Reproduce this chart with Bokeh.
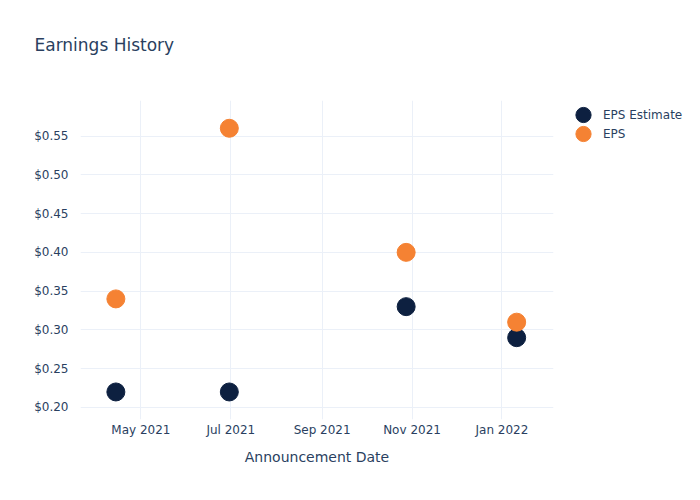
from datetime import datetime
from bokeh.plotting import figure
from bokeh.models import (ColumnDataSource, Legend, LegendItem, FixedTicker,
                          DatetimeTickFormatter, NumeralTickFormatter, Range1d)
from bokeh.embed import file_html
from bokeh.resources import INLINE

dates = ["2021-04-14", "2021-06-30", "2021-10-28", "2022-01-11"]
eps_estimate = [0.22, 0.22, 0.33, 0.29]
eps_actual = [0.34, 0.56, 0.40, 0.31]
x_tick_dates = ["2021-05-01", "2021-07-01", "2021-09-01", "2021-11-01", "2022-01-01"]
y_ticks = [0.20, 0.25, 0.30, 0.35, 0.40, 0.45, 0.50, 0.55]

def ms(s):
    return datetime.strptime(s, "%Y-%m-%d").timestamp() * 1000.0

xd = [datetime.strptime(d, "%Y-%m-%d") for d in dates]
src = ColumnDataSource(dict(x=xd, est=eps_estimate, eps=eps_actual))

TXT = "#2a3f5f"
FONT = "DejaVu Sans"

p = figure(frame_width=473, frame_height=319, x_axis_type="datetime", output_backend="svg",
           toolbar_location=None, min_border_left=80, min_border_right=147,
           min_border_top=100, min_border_bottom=81,
           x_range=Range1d(ms("2021-03-21"), ms("2022-02-05")),
           y_range=Range1d(0.1845, 0.5958))
p.outline_line_color = None
p.background_fill_color = "white"

p.title.text = "Earnings History"
p.title.text_font = FONT
p.title.text_font_size = "17px"
p.title.text_font_style = "normal"
p.title.text_color = TXT
p.title.align = "left"
p.title.offset = -46
p.title.standoff = 0
p.title.padding = dict(left=0, right=0, top=0, bottom=46)

r1 = p.ellipse("x", "est", source=src, width=18, height=18, width_units="screen",
               height_units="screen", fill_color="#0d2040", line_color="#0d2040")
r2 = p.ellipse("x", "eps", source=src, width=18, height=18, width_units="screen",
               height_units="screen", fill_color="#f58233", line_color="#f58233")

p.xaxis.ticker = FixedTicker(ticks=[ms(d) for d in x_tick_dates])
p.xaxis.formatter = DatetimeTickFormatter(months="%b %Y", days="%b %Y")
p.yaxis.ticker = FixedTicker(ticks=y_ticks)
p.yaxis.formatter = NumeralTickFormatter(format="$0.00")

for ax in (p.xaxis[0], p.yaxis[0]):
    ax.axis_line_color = None
    ax.major_tick_line_color = None
    ax.minor_tick_line_color = None
    ax.major_tick_out = 0
    ax.major_tick_in = 0
    ax.minor_tick_out = 0
    ax.major_label_text_font = FONT
    ax.major_label_text_font_size = "12px"
    ax.major_label_text_color = TXT
p.xaxis.major_label_standoff = 3
p.yaxis.major_label_standoff = 12
p.xaxis.axis_label = "Announcement Date"
p.xaxis.axis_label_text_font = FONT
p.xaxis.axis_label_text_font_size = "14px"
p.xaxis.axis_label_text_font_style = "normal"
p.xaxis.axis_label_text_color = TXT
p.xaxis.axis_label_standoff = 9

p.xgrid.grid_line_color = "#ebf0f8"
p.ygrid.grid_line_color = "#ebf0f8"
p.xgrid.grid_line_width = 1
p.ygrid.grid_line_width = 1

legend = Legend(items=[LegendItem(label="EPS Estimate", renderers=[r1]),
                       LegendItem(label="EPS", renderers=[r2])],
                location=(20, 276))
legend.label_text_font = FONT
legend.label_text_font_size = "12px"
legend.label_text_color = TXT
legend.border_line_color = None
legend.background_fill_alpha = 0
legend.glyph_width = 20
legend.glyph_height = 19
legend.spacing = 0
legend.label_standoff = 10
legend.padding = 0
legend.margin = 0
legend.label_height = 19
p.add_layout(legend, "right")

open("out.html", "w").write(file_html(p, INLINE))
